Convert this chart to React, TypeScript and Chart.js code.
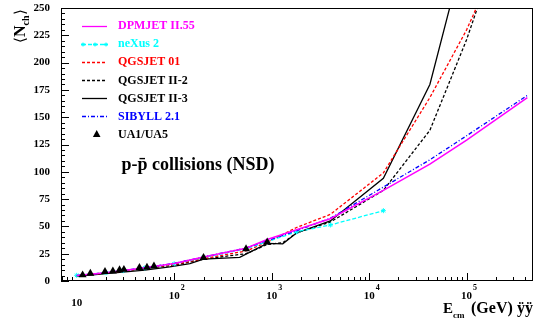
import React, { useEffect, useRef } from "react";
import { Chart, registerables } from "chart.js";
Chart.register(...registerables);

// UA1/UA5 data
const uaEnergy = [11.5, 13.8, 19.5, 23.5, 27.5, 30.5, 44, 52.6, 62, 200, 546, 900];
const uaNch = [5.5, 7.0, 8.5, 9.0, 10.2, 10.5, 12.2, 12.5, 13.6, 21.4, 29.4, 35.6];

// DPMJET II.55
const dpmjetE = [10, 20, 30, 50, 100, 200, 546, 900, 1800, 4000, 14000, 42000, 100000, 420000];
const dpmjetN = [5, 7.6, 9.6, 12.2, 16, 22, 30, 38, 47, 57, 83, 107, 129, 168];

// neXus 2
const nexusE = [10, 20, 30, 50, 100, 200, 546, 900, 1800, 4000, 14000];
const nexusN = [5.2, 7.6, 9.5, 12, 15.8, 21.5, 29.5, 36, 45, 51.3, 64.4];

// QGSJET 01
const qgs01E = [10, 20, 30, 50, 100, 200, 546, 900, 1800, 4000, 14000, 42000, 100000, 200000];
const qgs01N = [5, 7.4, 9.3, 11.8, 15, 20.5, 27.5, 35.5, 49, 61, 99, 168, 230, 290];

// QGSJET II-2
const qgs2E = [10, 20, 30, 50, 100, 200, 546, 900, 1300, 1800, 4000, 14000, 42000, 100000, 200000];
const qgs2N = [4.6, 7.2, 9, 11.5, 14.5, 20, 25, 33.5, 35, 44, 54, 83, 138, 221, 300];

// QGSJET II-3
const qgs3E = [10, 20, 50, 90, 145, 200, 470, 900, 1300, 1800, 4000, 14000, 42000, 100000];
const qgs3N = [4.2, 6.8, 10, 13, 16, 20, 21.7, 34.5, 34, 44, 55, 94, 180, 310];

// SIBYLL 2.1
const sibyllE = [10, 20, 30, 50, 100, 200, 546, 900, 1800, 4000, 14000, 42000, 100000, 420000];
const sibyllN = [5, 7.6, 9.6, 12.2, 16.2, 22, 30.2, 37, 46, 57.5, 86, 111, 133, 170];

const yTicks = [0, 25, 50, 75, 100, 125, 150, 175, 200, 225, 250];
const xDecades = [1, 2, 3, 4, 5];

const legendNames = ["DPMJET II.55", "neXus 2", "QGSJET 01", "QGSJET II-2", "QGSJET II-3", "SIBYLL 2.1", "UA1/UA5"];

const pts = (e: number[], n: number[]) => e.map((x, i) => ({ x, y: n[i] }));

const SERIF = "'Liberation Serif', 'Times New Roman', serif";

const MAGENTA = "#ff00ff";
const CYAN = "#00ffff";
const RED = "#ff0000";
const BLUE = "#0000ff";

const legendStyles = [
  { color: MAGENTA, dash: [] as number[], text: MAGENTA, marker: "" },
  { color: CYAN, dash: [4, 2], text: CYAN, marker: "star" },
  { color: RED, dash: [3, 2], text: RED, marker: "" },
  { color: "#000", dash: [3, 2], text: "#000", marker: "" },
  { color: "#000", dash: [], text: "#000", marker: "" },
  { color: BLUE, dash: [4, 2, 1, 2], text: BLUE, marker: "" },
  { color: "#000", dash: [], text: "#000", marker: "triangle" },
];

const decor = {
  id: "decor",
  afterDraw(chart: any) {
    const { ctx, chartArea: a, scales } = chart;
    const xs = scales.x;
    const ys = scales.y;
    ctx.save();
    ctx.strokeStyle = "#000";
    ctx.lineWidth = 1;
    ctx.setLineDash([]);
    ctx.strokeRect(a.left + 0.5, a.top + 0.5, a.right - a.left - 1, a.bottom - a.top - 1);

    // y ticks (inside)
    ctx.beginPath();
    for (let v = 0; v <= 250; v += 5) {
      const y = Math.round(ys.getPixelForValue(v)) + 0.5;
      const len = v % 25 === 0 ? 8 : 4;
      ctx.moveTo(a.left, y);
      ctx.lineTo(a.left + len, y);
    }
    // x ticks (inside)
    for (let k = 0; k <= 5; k++) {
      for (let m = 1; m <= 9; m++) {
        const v = m * Math.pow(10, k);
        if (v < xs.min || v > xs.max) continue;
        if (v === 10) continue;
        const x = Math.round(xs.getPixelForValue(v)) + 0.5;
        const len = m === 1 ? 8 : 4;
        ctx.moveTo(x, a.bottom);
        ctx.lineTo(x, a.bottom - len);
      }
    }
    ctx.stroke();

    // x tick labels
    ctx.fillStyle = "#000";
    ctx.textBaseline = "alphabetic";
    for (const k of xDecades) {
      const x = xs.getPixelForValue(Math.pow(10, k));
      ctx.font = `bold 11px ${SERIF}`;
      ctx.textAlign = "center";
      if (k === 1) {
        ctx.fillText("10", x, 306);
      } else {
        ctx.fillText("10", x, 299);
        const w = ctx.measureText("10").width;
        ctx.font = `bold 8px ${SERIF}`;
        ctx.textAlign = "left";
        ctx.fillText(String(k), x + w / 2 + 1, 290);
      }
    }

    // x axis title
    ctx.textAlign = "left";
    ctx.font = `bold 15px ${SERIF}`;
    ctx.fillText("E", 443, 313);
    ctx.font = `bold 9px ${SERIF}`;
    ctx.fillText("cm", 453, 318);
    ctx.font = `bold 16px ${SERIF}`;
    ctx.fillText("(GeV)", 471, 313);
    ctx.font = `bold 16px ${SERIF}`;
    ctx.fillText("ÿÿ", 517, 313);

    // y axis title (rotated)
    ctx.save();
    ctx.translate(24.5, 43);
    ctx.rotate(-Math.PI / 2);
    let tx = 0;
    ctx.font = `15px ${SERIF}`;
    ctx.fillText("⟨", tx, 0);
    tx += ctx.measureText("⟨").width;
    ctx.font = `bold 16px ${SERIF}`;
    ctx.fillText("N", tx, 0);
    tx += ctx.measureText("N").width;
    ctx.font = `bold 10px ${SERIF}`;
    ctx.fillText("ch", tx, 4);
    tx += ctx.measureText("ch").width;
    ctx.font = `15px ${SERIF}`;
    ctx.fillText("⟩", tx, 0);
    ctx.restore();

    // inner label
    ctx.font = `bold 18px ${SERIF}`;
    ctx.textAlign = "left";
    ctx.fillText("p-p\u0304 collisions (NSD)", 121.5, 169.5);

    // legend
    const x0 = 82;
    const x1 = 107;
    for (let i = 0; i < legendNames.length; i++) {
      const st = legendStyles[i];
      const y = 25.7 + i * 18.1;
      const yy = Math.round(y) + 0.5;
      if (st.marker === "triangle") {
        ctx.fillStyle = "#000";
        ctx.beginPath();
        ctx.moveTo(96.7, yy - 4.5);
        ctx.lineTo(100.5, yy + 2.5);
        ctx.lineTo(92.9, yy + 2.5);
        ctx.closePath();
        ctx.fill();
      } else {
        ctx.strokeStyle = st.color;
        ctx.lineWidth = 1.3;
        ctx.setLineDash(st.dash);
        ctx.beginPath();
        ctx.moveTo(x0, yy);
        ctx.lineTo(x1, yy);
        ctx.stroke();
        ctx.setLineDash([]);
        if (st.marker === "star") {
          ctx.lineWidth = 1;
          for (const mx of [83, 95, 106]) {
            ctx.beginPath();
            ctx.moveTo(mx - 2, yy);
            ctx.lineTo(mx + 2, yy);
            ctx.moveTo(mx, yy - 2);
            ctx.lineTo(mx, yy + 2);
            ctx.moveTo(mx - 1.5, yy - 1.5);
            ctx.lineTo(mx + 1.5, yy + 1.5);
            ctx.moveTo(mx - 1.5, yy + 1.5);
            ctx.lineTo(mx + 1.5, yy - 1.5);
            ctx.stroke();
          }
        }
      }
      ctx.fillStyle = st.text;
      ctx.font = `bold 12px ${SERIF}`;
      ctx.textAlign = "left";
      ctx.textBaseline = "middle";
      ctx.fillText(legendNames[i], 118, y + 0.5);
      ctx.textBaseline = "alphabetic";
    }
    ctx.restore();
  },
};

export default function App() {
  const ref = useRef<HTMLCanvasElement>(null);
  useEffect(() => {
    const line = (data: any, color: string, dash: number[], width = 1.3) => ({
      data,
      borderColor: color,
      backgroundColor: color,
      borderDash: dash,
      borderWidth: width,
      pointRadius: 0,
      showLine: true,
      fill: false,
      tension: 0,
    });
    const chart = new Chart(ref.current!, {
      type: "line",
      data: {
        datasets: [
          {
            data: pts(uaEnergy, uaNch),
            showLine: false,
            pointStyle: "triangle",
            pointRadius: 4.6,
            pointBackgroundColor: "#000",
            pointBorderColor: "#000",
            pointBorderWidth: 0,
            borderColor: "#000",
            order: -1,
          } as any,
          line(pts(dpmjetE, dpmjetN), MAGENTA, [], 1.5),
          line(pts(sibyllE, sibyllN), BLUE, [4, 2, 1, 2]),
          {
            ...line(pts(nexusE, nexusN), CYAN, [4, 2]),
            pointStyle: "star",
            pointRadius: 2.5,
            pointBorderColor: CYAN,
            pointBorderWidth: 1,
          },
          line(pts(qgs01E, qgs01N), RED, [3, 2]),
          line(pts(qgs2E, qgs2N), "#000", [3, 2]),
          line(pts(qgs3E, qgs3N), "#000", []),
        ],
      },
      options: {
        responsive: false,
        animation: false,
        events: [],
        layout: { padding: { top: 8, right: 5, left: 0, bottom: 0 } },
        plugins: { legend: { display: false }, tooltip: { enabled: false } },
        scales: {
          x: {
            type: "logarithmic",
            min: 6.9,
            max: 4.8e5,
            grid: { display: false, drawTicks: false },
            border: { display: false },
            ticks: { display: false },
            afterFit: (s: any) => {
              s.height = 45;
              s.paddingLeft = 0;
              s.paddingRight = 0;
            },
          },
          y: {
            type: "linear",
            min: 0,
            max: 250,
            afterBuildTicks: (s: any) => {
              s.ticks = yTicks.map((v) => ({ value: v }));
            },
            grid: { display: false, drawTicks: false },
            border: { display: false },
            ticks: {
              color: "#000",
              padding: 11,
              font: { family: SERIF, weight: "bold", size: 11 },
            },
            afterFit: (s: any) => {
              s.width = 61;
              s.paddingTop = 0;
              s.paddingBottom = 0;
            },
          },
        },
      },
      plugins: [decor],
    });
    return () => chart.destroy();
  }, []);
  return (
    <div style={{ position: "fixed", left: 0, top: 0, width: 538, height: 326, background: "#fff" }}>
      <canvas ref={ref} width={538} height={326} style={{ display: "block" }} />
    </div>
  );
}
